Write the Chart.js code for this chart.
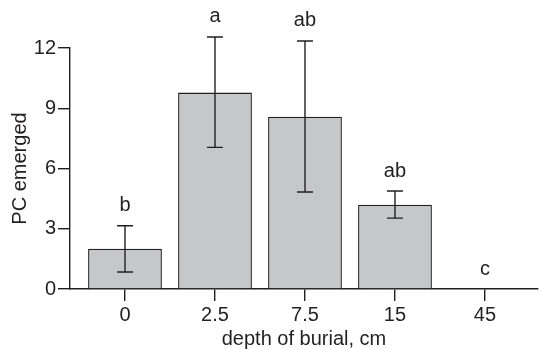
<!DOCTYPE html>
<html>
<head>
<meta charset="utf-8">
<script src="https://cdn.jsdelivr.net/npm/chart.js@4"></script>
<style>
  html, body { margin: 0; padding: 0; background: #fff; }
  #wrap { width: 541px; height: 349px; position: relative; }
</style>
</head>
<body>
<div id="wrap"><canvas id="chart"></canvas></div>
<script>
const depths = ["0", "2.5", "7.5", "15", "45"];
const meanEmerged = [2.0, 9.78, 8.58, 4.2, 0];
const errLow = [0.85, 7.05, 4.83, 3.53, 0];
const errHigh = [3.15, 12.55, 12.35, 4.88, 0];
const groupLetters = ["b", "a", "ab", "ab", "c"];
const yTicks = [0, 3, 6, 9, 12];

const font = "'Liberation Sans', Arial, sans-serif";
const ink = "#231f20";

// error bars + significance letters
const errorBarPlugin = {
  id: "errorBars",
  afterDatasetsDraw(chart) {
    const ctx = chart.ctx;
    const xs = chart.scales.x;
    const ys = chart.scales.y;
    ctx.save();
    ctx.strokeStyle = ink;
    ctx.lineWidth = 1.4;
    depths.forEach((d, i) => {
      const x = xs.getPixelForValue(i);
      if (errHigh[i] > errLow[i]) {
        const yLo = ys.getPixelForValue(errLow[i]);
        const yHi = ys.getPixelForValue(errHigh[i]);
        ctx.beginPath();
        ctx.moveTo(x, yLo); ctx.lineTo(x, yHi);
        ctx.moveTo(x - 8, yLo); ctx.lineTo(x + 8, yLo);
        ctx.moveTo(x - 8, yHi); ctx.lineTo(x + 8, yHi);
        ctx.stroke();
      }
      const top = Math.max(errHigh[i], meanEmerged[i]);
      ctx.fillStyle = ink;
      ctx.font = "20px " + font;
      ctx.textAlign = "center";
      ctx.textBaseline = "middle";
      ctx.fillText(groupLetters[i], x, ys.getPixelForValue(top) - 20);
    });
    ctx.restore();
  }
};

new Chart(document.getElementById("chart"), {
  type: "bar",
  data: {
    datasets: [{
      data: meanEmerged.map((v, i) => ({ x: i, y: v })),
      backgroundColor: "#c6c7c9",
      borderColor: ink,
      borderWidth: 1.4,
      barPercentage: 0.82,
      categoryPercentage: 1
    }]
  },
  options: {
    responsive: true,
    maintainAspectRatio: false,
    animation: false,
    layout: { padding: { top: 48, right: 3, left: 0, bottom: 0 } },
    plugins: { legend: { display: false }, tooltip: { enabled: false } },
    scales: {
      x: {
        type: "linear",
        min: -0.611,
        max: 4.589,
        offset: false,
        afterFit(scale) { scale.height = 60; },
        afterBuildTicks(scale) { scale.ticks = depths.map((d, i) => ({ value: i })); },
        ticks: {
          callback: (v) => depths[v],
          color: ink,
          font: { family: font, size: 20 },
          padding: 2,
          maxRotation: 0
        },
        grid: { offset: false, drawOnChartArea: false, drawTicks: true, tickLength: 12, color: ink, lineWidth: 1.4 },
        border: { display: true, color: ink, width: 1.4 },
        title: {
          display: true,
          text: "depth of burial, cm",
          color: ink,
          font: { family: font, size: 20 },
          padding: { top: 0, bottom: -2 }
        }
      },
      y: {
        min: 0,
        max: 12,
        afterFit(scale) { scale.width = 70; },
        afterBuildTicks(scale) { scale.ticks = yTicks.map(v => ({ value: v })); },
        ticks: {
          color: ink,
          font: { family: font, size: 20 },
          padding: 2
        },
        grid: { drawOnChartArea: false, drawTicks: true, tickLength: 12, color: ink, lineWidth: 1.4 },
        border: { display: true, color: ink, width: 1.4 },
        title: {
          display: true,
          text: "PC emerged",
          color: ink,
          font: { family: font, size: 20 },
          padding: { top: 8, bottom: 0 }
        }
      }
    }
  },
  plugins: [errorBarPlugin]
});
</script>
</body>
</html>
